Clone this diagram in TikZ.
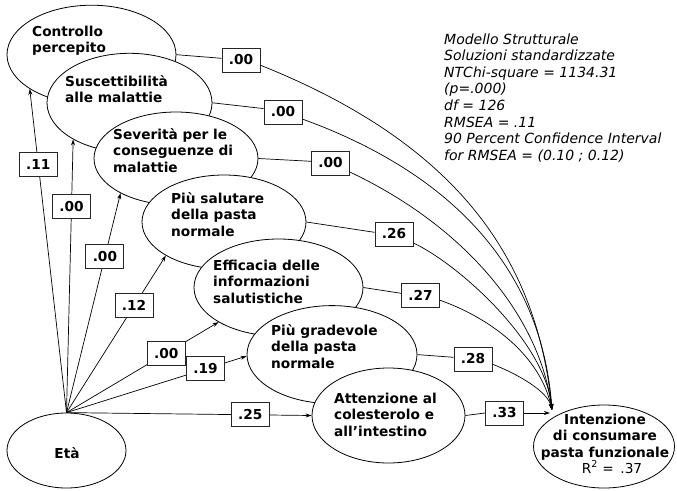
\documentclass[tikz,border=0pt]{standalone}
\usepackage{fontspec}
\setmainfont{DejaVu Sans}
\usetikzlibrary{shapes.geometric,arrows.meta}
\newcommand\mylines[1]{\begin{tabular}[t]{@{}l@{}}#1\end{tabular}}
\newcommand\mylinesc[1]{\begin{tabular}[t]{@{}c@{}}#1\end{tabular}}
\begin{document}
\begin{tikzpicture}[x=1pt,y=-1pt,
  ell/.style={draw, ellipse, fill=white, line width=0.8pt, inner sep=0pt},
  txt/.style={anchor=base west, inner sep=0pt, font=\fontsize{13.7}{16.5}\selectfont\bfseries},
  valbox/.style={draw=black!85, fill=white, line width=1pt, minimum width=38pt, minimum height=24pt, inner sep=0pt, font=\fontsize{13.7}{16.5}\selectfont\bfseries},
  mylink/.style={line width=0.7pt},
  myarr/.style={line width=0.7pt, -{Stealth[length=6pt,width=4pt]}}
]
\useasboundingbox (0,0) rectangle (677,490);

% ellipses (stacked, later ones on top)
\node[ell, minimum width=169pt, minimum height=99pt] (ctrl) at (91.5,54.7) {};
\node[txt] (ctrlT) at (32,36) {\mylines{Controllo\\percepito}};
\node[ell, minimum width=165pt, minimum height=99pt] (susc) at (129.5,102.8) {};
\node[txt] (suscT) at (65,86) {\mylines{Suscettibilità\\alle malattie}};
\node[ell, minimum width=164pt, minimum height=93pt] (sev) at (176,158.5) {};
\node[txt] (sevT) at (113,139) {\mylines{Severità per le\\conseguenze di\\malattie}};
\node[ell, minimum width=164pt, minimum height=94pt] (sal) at (224,222) {};
\node[txt] (salT) at (171,203) {\mylines{Più salutare\\della pasta\\normale}};
\node[ell, minimum width=169pt, minimum height=97pt] (eff) at (278.5,287.5) {};
\node[txt] (effT) at (213,270) {\mylines{Efficacia delle\\informazioni\\salutistiche}};
\node[ell, minimum width=170pt, minimum height=98pt] (grad) at (332,354.6) {};
\node[txt] (gradT) at (271,335) {\mylines{Più gradevole\\della pasta\\normale}};
\node[ell, minimum width=153pt, minimum height=95pt] (att) at (388.5,415.5) {};
\node[txt] (attT) at (334,403) {\mylines{Attenzione al\\colesterolo e\\all’intestino}};
\node[ell, minimum width=119pt, minimum height=75pt] (eta) at (66.5,450.5) {};
\node[txt, anchor=base] (etaT) at (67,458) {Età};
\node[ell, minimum width=141pt, minimum height=83pt] (int) at (604,446.5) {};
\node[txt, anchor=base] (intT) at (605,424) {\mylinesc{Intenzione\\di consumare\\pasta funzionale}};
\node[anchor=base, inner sep=0pt, font=\fontsize{13.7}{16.5}\selectfont] (r2) at (612,473) {R\textsuperscript{2} = \,.37};

% fit information
\node[anchor=base west, inner sep=0pt, font=\fontsize{14}{16.6}\selectfont\itshape] (info) at (444,44)
  {\mylines{Modello Strutturale\\Soluzioni standardizzate\\NTChi-square = 1134.31\\(p=.000)\\df = 126\\RMSEA = .11\\90 Percent Confidence Interval\\for RMSEA = (0.10 ; 0.12)}};

% convergence points at the outcome
\coordinate (conv) at (552,410);
\coordinate (conv2) at (550,413);

% value boxes on the paths to the outcome
\node[valbox] (b1) at (241,60) {.00};
\node[valbox] (b2) at (283,112) {.00};
\node[valbox] (b3) at (330.5,163) {.00};
\node[valbox] (b4) at (394,234) {.26};
\node[valbox] (b5) at (420.5,295) {.27};
\node[valbox] (b6) at (473,359) {.28};
\node[valbox] (b7) at (504.5,413) {.33};

\draw[mylink] (ctrl.east) -- (b1.175);
\draw[myarr] (b1.345) .. controls (460,145) and (537,261) .. (conv);
\draw[mylink] (susc.east) -- (b2.170);
\draw[myarr] (b2.340) .. controls (470,180) and (543,285) .. (conv);
\draw[mylink] (sev.east) -- (b3.175);
\draw[myarr] (b3.335) .. controls (470,229) and (540,320) .. (conv);
\draw[mylink] (sal.east) -- (b4.175);
\draw[myarr] (b4.335) .. controls (455,262) and (545,340) .. (conv);
\draw[mylink] (eff.east) -- (b5.175);
\draw[myarr] (b5.345) .. controls (490,318) and (540,355) .. (conv);
\draw[mylink] (grad.east) -- (b6.175);
\draw[myarr] (b6.345) .. controls (520,375) and (548,392) .. (conv);
\draw[mylink] (att.east) -- (b7.west);
\draw[myarr] (b7.east) -- (conv2);

% paths from Eta
\draw[myarr] (eta.north) -- (ctrl.209) node[valbox, pos=0.766] (e1) {.11};
\draw[myarr] (eta.north) -- (susc.213) node[valbox, pos=0.755] (e2) {.00};
\draw[myarr] (eta.north) -- (sev.212) node[valbox, pos=0.711] (e3) {.00};
\draw[myarr] (eta.north) -- (sal.210.7) node[valbox, pos=0.68] (e4) {.12};
\draw[myarr] (eta.north) -- (eff.210) node[valbox, pos=0.656] (e5) {.00};
\draw[myarr] (eta.north) -- (grad.181) node[valbox, pos=0.772] (e6) {.19};
\draw[myarr] (eta.north) -- (att.west) node[valbox, pos=0.75] (e7) {.25};
\end{tikzpicture}
\end{document}
